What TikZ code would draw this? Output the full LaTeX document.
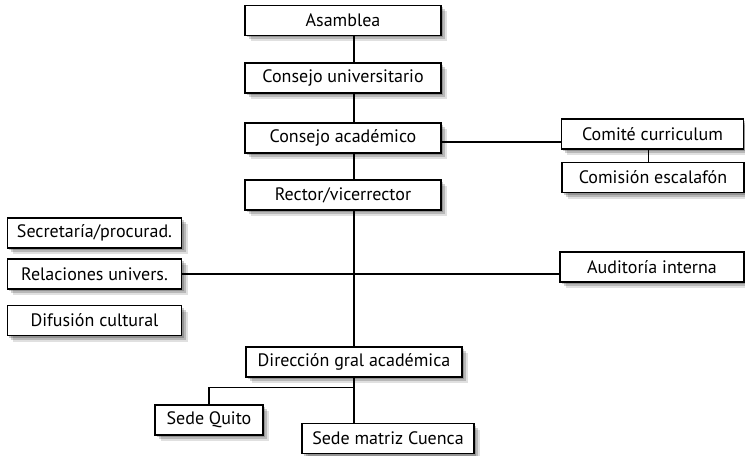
\documentclass[tikz,border=0pt]{standalone}
\usepackage{fontspec}
\setmainfont{PT Sans}
\usetikzlibrary{shadows}
\begin{document}
\begin{tikzpicture}[x=0.75pt,y=-0.75pt,
    caja/.style={draw,fill=white,line width=0.8pt,minimum height=22.5pt,inner sep=0pt,
      font=\fontsize{13.5}{15}\selectfont,
      drop shadow={shadow xshift=4.5pt,shadow yshift=-4.5pt,opacity=0.12,fill=black},
      drop shadow={shadow xshift=3pt,shadow yshift=-3pt,opacity=0.18,fill=black},
      drop shadow={shadow xshift=1.5pt,shadow yshift=-1.5pt,opacity=0.2,fill=black}},
    linea/.style={line width=0.8pt}]
    \useasboundingbox (0,0) rectangle (745,456);
    \node[caja,minimum width=147pt] (asamblea) at (343,20.5) {Asamblea};
    \node[caja,minimum width=147pt] (consejou) at (343,78) {Consejo universitario};
    \node[caja,minimum width=147pt] (consejoa) at (343,138) {Consejo académico};
    \node[caja,minimum width=147pt] (rector) at (343,195) {Rector/vicerrector};
    \node[caja,minimum width=137pt] (comite) at (652.5,134) {Comité curriculum};
    \node[caja,minimum width=136.5pt] (comision) at (653,177.5) {Comisión escalafón};
    \node[caja,minimum width=138pt] (auditoria) at (652,267) {Auditoría interna};
    \node[caja,minimum width=131pt] (secretaria) at (94.5,233) {Secretaría/procurad.};
    \node[caja,minimum width=131pt] (relaciones) at (94.5,274) {Relaciones univers.};
    \node[caja,minimum width=131pt] (difusion) at (94.5,320.5) {Difusión cultural};
    \node[caja,minimum width=162pt] (direccion) at (354,362) {Dirección gral académica};
    \node[caja,minimum width=81pt] (quito) at (209,420) {Sede Quito};
    \node[caja,minimum width=129pt] (cuenca) at (388,438.5) {Sede matriz Cuenca};
    \draw[linea] (asamblea.south -| direccion) -- (consejou.north -| direccion);
    \draw[linea] (consejou.south -| direccion) -- (consejoa.north -| direccion);
    \draw[linea] (consejoa.south -| direccion) -- (rector.north -| direccion);
    \draw[linea] (rector.south -| direccion) -- (direccion.north);
    \draw[linea] ([yshift=-3pt]consejoa.east) -- ([yshift=-3pt]consejoa.east -| comite.west);
    \draw[linea] ([xshift=-3pt]comite.south) -- ([xshift=-3pt]comite.south |- comision.north);
    \draw[linea] (relaciones.east) -- (relaciones.east -| auditoria.west);
    \draw[linea] (direccion.south) -- ++(0,10) -| (quito.north);
    \draw[linea] (direccion.south) -- (direccion.south |- cuenca.north);
\end{tikzpicture}
\end{document}
